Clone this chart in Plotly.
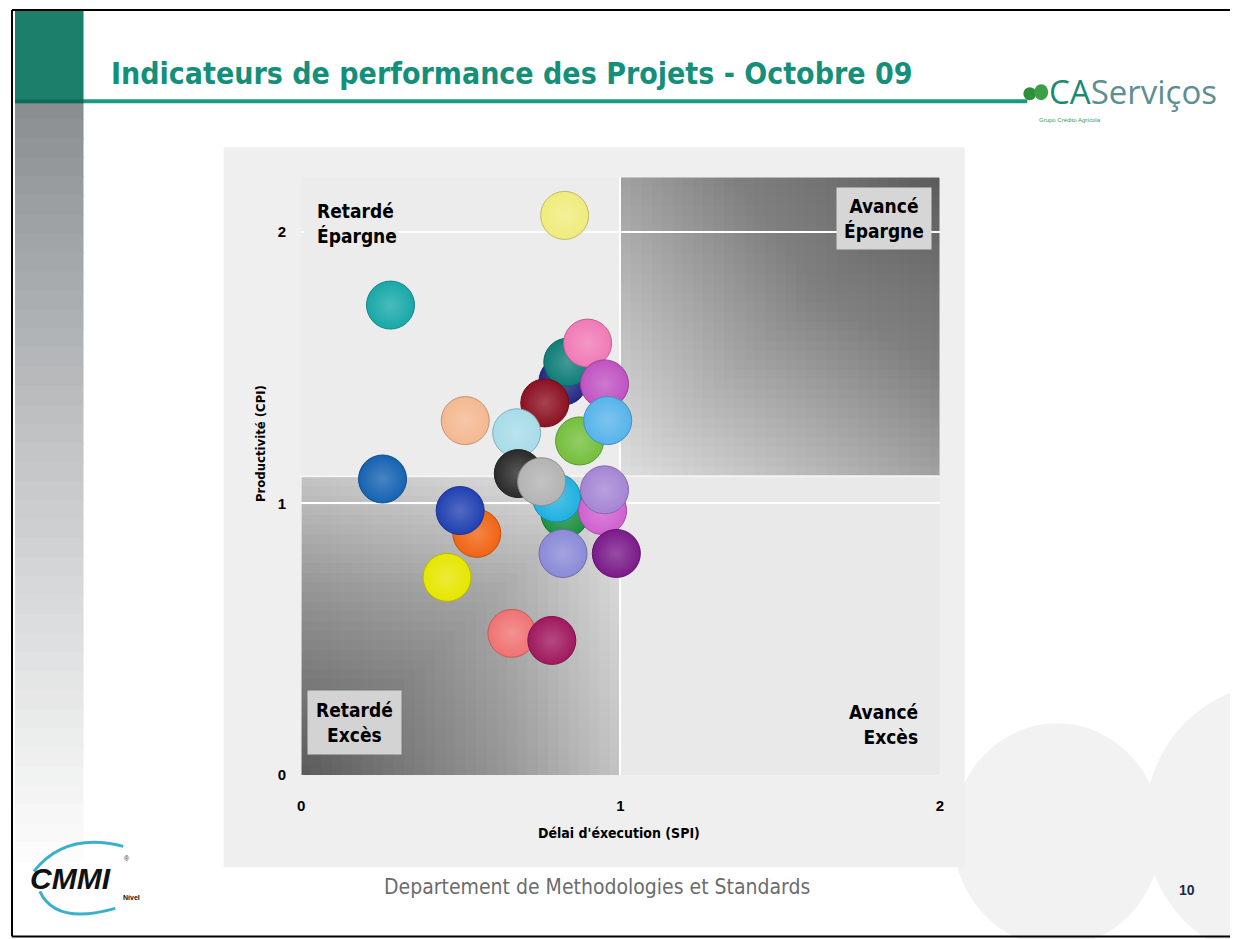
import plotly.graph_objects as go

# project indicators
spi = [0.825, 0.28, 0.82, 0.835, 0.897, 0.95, 0.763, 0.514, 0.872, 0.96, 0.675,
       0.255, 0.68, 0.826, 0.80, 0.753, 0.944, 0.95, 0.55, 0.498, 0.82, 0.987,
       0.457, 0.66, 0.785]
cpi = [2.06, 1.73, 1.45, 1.52, 1.59, 1.44, 1.37, 1.305, 1.23, 1.305, 1.26,
       1.09, 1.11, 0.963, 1.02, 1.08, 0.974, 1.05, 0.89, 0.974, 0.816, 0.816,
       0.728, 0.522, 0.496]
colors = ['#efec7c', '#18a8a8', '#232a85', '#0f7d78', '#f07ab6', '#c052c2', '#8c1020',
          '#f4b891', '#74bf3c', '#56b4ea', '#a6dce8', '#1562b2', '#2a2a2a', '#1a9040',
          '#1fb0e0', '#b3b3b3', '#d060d0', '#a585d4', '#f06414', '#2141b2', '#8a8ad8',
          '#7a1a8a', '#e6e600', '#f07272', '#a0185e']

xticks = [0, 1, 2]
yticks = [0, 1, 2]
quadrants = ['Retardé<br>Épargne', 'Avancé<br>Épargne', 'Retardé<br>Excès', 'Avancé<br>Excès']

# page body has an 8px margin; the capture also comes out ~1% shorter vertically
OFF = 8
SY = 0.99
W, H = 1222, 940


def px(v):
    return (v - OFF) / W


def py(v):
    return 1 - (v / SY - OFF) / H


def mix(c, t, f):
    a = [int(c[i:i + 2], 16) for i in (1, 3, 5)]
    b = [int(t[i:i + 2], 16) for i in (1, 3, 5)]
    return '#%02x%02x%02x' % tuple(int(a[i] + (b[i] - a[i]) * f) for i in range(3))


def layer_op(total, n):
    return 1 - (1 - total) ** (1.0 / n)


NARROW = 'Liberation Sans Narrow, DejaVu Sans Condensed, Arial Narrow, sans-serif'

fig = go.Figure()

fig.add_trace(go.Scatter(
    x=spi, y=cpi, mode='markers', hoverinfo='x+y',
    marker=dict(size=48, color=colors,
                gradient=dict(type='radial', color=[mix(c, '#ffffff', 0.22) for c in colors]),
                line=dict(width=1, color=[mix(c, '#000000', 0.2) for c in colors]),
                opacity=1),
    showlegend=False))

shapes = []
# slide background pieces
shapes.append(dict(type='circle', xref='paper', yref='paper', x0=px(955), x1=px(1165), y0=py(945), y1=py(722),
                   fillcolor='#f2f2f2', line_width=0, layer='below'))
shapes.append(dict(type='circle', xref='paper', yref='paper', x0=px(1148), x1=px(1420), y0=py(960), y1=py(682),
                   fillcolor='#f2f2f2', line_width=0, layer='below'))
shapes.append(dict(type='rect', xref='paper', yref='paper', x0=px(221), x1=px(967), y0=py(866), y1=py(147),
                   fillcolor='#efefef', line_width=0, layer='below'))

# left vertical bar
shapes.append(dict(type='rect', xref='paper', yref='paper', x0=px(11), x1=px(80), y0=py(100), y1=py(11),
                   fillcolor='#1b7f6b', line_width=0, layer='below'))
n = 40
for i in range(n):
    y0 = 100 + i * 760 / n
    shapes.append(dict(type='rect', xref='paper', yref='paper', x0=px(11), x1=px(80),
                       y0=py(y0 + 760 / n + 1), y1=py(y0),
                       fillcolor=mix('#8a8e91', '#ffffff', (i / n) ** 0.9), line_width=0, layer='below'))
shapes.append(dict(type='line', xref='paper', yref='paper', x0=px(11), x1=px(1030), y0=py(101), y1=py(101),
                   line=dict(color='#1c9a80', width=4), layer='below'))
shapes.append(dict(type='line', xref='paper', yref='paper', x0=px(11), x1=px(80), y0=py(101), y1=py(101),
                   line=dict(color='#0f6b58', width=4), layer='below'))

# quadrant backgrounds
shapes.append(dict(type='rect', x0=0, x1=1, y0=1.1, y1=2.2, fillcolor='#ececec', line_width=0, layer='below'))
shapes.append(dict(type='rect', x0=1, x1=2, y0=0, y1=1.1, fillcolor='#e9e9e9', line_width=0, layer='below'))
shapes.append(dict(type='rect', x0=1, x1=2, y0=1.1, y1=2.2, fillcolor='#dcdcdc', line_width=0, layer='below'))
shapes.append(dict(type='rect', x0=0, x1=1, y0=0, y1=1.1, fillcolor='#e0e0e0', line_width=0, layer='below'))
k = 30
for i in range(k):
    f = (i + 1) / (k + 1)
    # top right: darker to the right, upward, and into the corner
    shapes.append(dict(type='rect', x0=1 + f, x1=2, y0=1.1, y1=2.2, fillcolor='black',
                       opacity=layer_op(0.22, k), line_width=0, layer='below'))
    shapes.append(dict(type='rect', x0=1, x1=2, y0=1.1 + 1.1 * f, y1=2.2, fillcolor='black',
                       opacity=layer_op(0.17, k), line_width=0, layer='below'))
    shapes.append(dict(type='rect', x0=1 + f, x1=2, y0=1.1 + 1.1 * f, y1=2.2, fillcolor='black',
                       opacity=layer_op(0.12, k), line_width=0, layer='below'))
    # bottom left: darker to the left, downward, and into the corner
    shapes.append(dict(type='rect', x0=0, x1=1 - f, y0=0, y1=1.1, fillcolor='black',
                       opacity=layer_op(0.13, k), line_width=0, layer='below'))
    shapes.append(dict(type='rect', x0=0, x1=1, y0=0, y1=1.1 - 1.1 * f, fillcolor='black',
                       opacity=layer_op(0.13, k), line_width=0, layer='below'))
    shapes.append(dict(type='rect', x0=0, x1=1 - f, y0=0, y1=1.1 - 1.1 * f, fillcolor='black',
                       opacity=layer_op(0.3, k), line_width=0, layer='below'))
shapes.append(dict(type='line', x0=0, x1=2, y0=1.1, y1=1.1, line=dict(color='#f4f4f4', width=2), layer='below'))

# CMMI swooshes
shapes.append(dict(type='path', xref='paper', yref='paper',
                   path='M %f %f Q %f %f %f %f' % (px(30), py(870), px(62), py(830), px(120), py(845)),
                   line=dict(color='#3bb0cc', width=3)))
shapes.append(dict(type='path', xref='paper', yref='paper',
                   path='M %f %f Q %f %f %f %f' % (px(36), py(890), px(52), py(924), px(112), py(907)),
                   line=dict(color='#3bb0cc', width=3)))
# leaf
shapes.append(dict(type='circle', xref='paper', yref='paper', x0=px(1026), x1=px(1039), y0=py(100), y1=py(87),
                   fillcolor='#2f8f3a', line_width=0))
shapes.append(dict(type='circle', xref='paper', yref='paper', x0=px(1037), x1=px(1051), y0=py(100), y1=py(84),
                   fillcolor='#3aa048', line_width=0))
# slide frame (top, left, bottom)
frame = dict(type='line', xref='paper', yref='paper', line=dict(color='black', width=2))
shapes.append(dict(frame, x0=px(8), x1=px(1240), y0=py(10), y1=py(10)))
shapes.append(dict(frame, x0=px(8), x1=px(8), y0=py(10), y1=py(935)))
shapes.append(dict(frame, x0=px(8), x1=px(1240), y0=py(935), y1=py(935)))

ann = []
base = dict(xref='paper', yref='paper', showarrow=False, yanchor='middle', xanchor='center')
# blank patch: the y=2 grid line only starts after the "Retardé Épargne" label
ann.append(dict(base, x=px(302), y=py(231), xanchor='left', text=' ', width=88, height=6,
                bgcolor='#ececec', borderpad=0, font=dict(size=4)))
lab = dict(base, font=dict(family=NARROW, size=19, color='black', weight='bold'))
ann.append(dict(lab, text=quadrants[0], x=px(313), y=py(223), xanchor='left', align='left', bgcolor='#ececec'))
ann.append(dict(lab, text=quadrants[1], x=px(886), y=py(218), align='center',
                bgcolor='#d6d6d6', borderpad=7))
ann.append(dict(lab, text=quadrants[2], x=px(353), y=py(721), align='center',
                bgcolor='#d3d3d3', borderpad=8))
ann.append(dict(lab, text=quadrants[3], x=px(922), y=py(723), xanchor='right', align='right'))

ann.append(dict(base, x=px(106), y=py(73), xanchor='left',
                text='Indicateurs de performance des Projets - Octobre 09',
                font=dict(family=NARROW, size=30, color='#14907a', weight='bold')))
ann.append(dict(base, x=px(1050), y=py(91), xanchor='left',
                text='<span style="color:#1b8a72">CA</span><span style="color:#5d8e92">Serviços</span>',
                font=dict(family='Open Sans, Liberation Sans, sans-serif', size=33)))
ann.append(dict(base, x=px(1040), y=py(120), xanchor='left',
                text='Grupo Crédito Agrícola', font=dict(family='Liberation Sans', size=6, color='#3a9a5a')))
ann.append(dict(base, x=px(597), y=py(886),
                text='Departement de Methodologies et Standards',
                font=dict(family=NARROW, size=21, color='#6c6c6c')))
ann.append(dict(base, x=px(1191), y=py(889), text='10',
                font=dict(family='Liberation Sans', size=14, color='#1a2a4a', weight='bold')))
ann.append(dict(base, x=px(67), y=py(877), text='<i>CMMI</i>',
                font=dict(family='Liberation Sans, sans-serif', size=30, color='#111111', weight='bold')))
ann.append(dict(base, x=px(124), y=py(857), text='®',
                font=dict(family='Liberation Sans', size=7, color='#333333')))
ann.append(dict(base, x=px(128), y=py(896), text='Nível',
                font=dict(family='Liberation Sans', size=7, color='#111111', weight='bold')))
# y axis title sits above the plot's vertical centre in the slide
ann.append(dict(base, x=px(258), y=py(443), text='Productivité (CPI)', textangle=-90,
                font=dict(family=NARROW, size=13, color='black', weight='bold')))
ann.append(dict(base, x=px(619), y=py(832), text="Délai d'éxecution (SPI)",
                font=dict(family=NARROW, size=14, color='black', weight='bold')))

fig.update_layout(
    width=W, height=H,
    margin=dict(l=0, r=0, t=0, b=0),
    paper_bgcolor='white', plot_bgcolor='rgba(0,0,0,0)',
    shapes=shapes, annotations=ann,
    xaxis=dict(domain=[px(299), px(942)], range=[0, 2], tickvals=xticks, showgrid=True,
               gridcolor='white', gridwidth=2, zeroline=False, showline=False, ticks='',
               ticklabelstandoff=20,
               tickfont=dict(family='Liberation Sans, sans-serif', size=15, color='black', weight='bold')),
    yaxis=dict(domain=[py(774), py(177)], range=[0, 2.2], tickvals=yticks, showgrid=True,
               gridcolor='white', gridwidth=2, zeroline=False, showline=False, ticks='',
               ticklabelstandoff=14,
               tickfont=dict(family='Liberation Sans, sans-serif', size=15, color='black', weight='bold')),
)

fig.write_html('out.html')
